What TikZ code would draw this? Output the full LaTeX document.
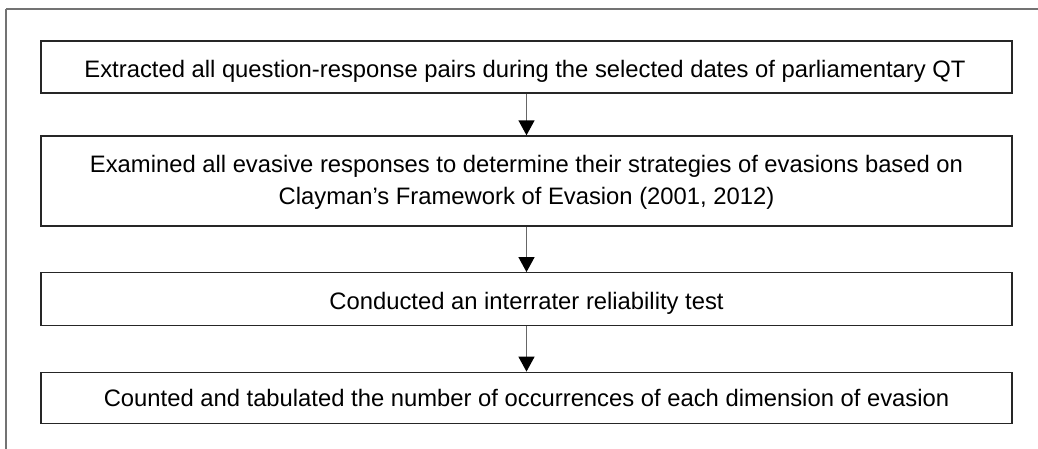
\documentclass[tikz,border=0pt]{standalone}
\usepackage{fontspec}
\setmainfont{Liberation Sans}
\usetikzlibrary{arrows.meta}
\begin{document}
\begin{tikzpicture}[x=1pt,y=-1pt,
  stepbox/.style={draw=black!85,line width=1.4pt,inner sep=0pt},
  steptext/.style={anchor=base,inner sep=0pt,font=\fontsize{23.8}{32}\selectfont,align=center},
  flow/.style={draw=black!60,line width=1.4pt,-{Triangle[width=16pt,length=15pt,black]},shorten >=0pt}]
\useasboundingbox (0,0) rectangle (1038,448);
\draw[black!55,line width=2.2pt] (6,9) -- (1040,9);
\draw[black!55,line width=2.2pt] (6,9) -- (6,450);
\node[stepbox,minimum width=971pt,minimum height=52pt] (b1) at (526.5,67) {};
\node[stepbox,minimum width=971pt,minimum height=90pt] (b2) at (526.5,181) {};
\node[stepbox,minimum width=971pt,minimum height=52.5pt] (b3) at (526.5,299) {};
\node[stepbox,minimum width=971pt,minimum height=51pt] (b4) at (526.5,397.8) {};
\node[steptext] (t1) at (525,77.7) {Extracted all question-response pairs during the selected dates of parliamentary QT};
\node[steptext] (t2a) at (526.5,172) {Examined all evasive responses to determine their strategies of evasions based on};
\node[steptext] (t2b) at (526.5,204) {Clayman’s Framework of Evasion (2001, 2012)};
\node[steptext] (t3) at (526.5,309.3) {Conducted an interrater reliability test};
\node[steptext] (t4) at (526.5,406.8) {Counted and tabulated the number of occurrences of each dimension of evasion};
\draw[flow] (b1.south) -- (b2.north);
\draw[flow] (b2.south) -- (b3.north);
\draw[flow] (b3.south) -- (b4.north);
\end{tikzpicture}
\end{document}
